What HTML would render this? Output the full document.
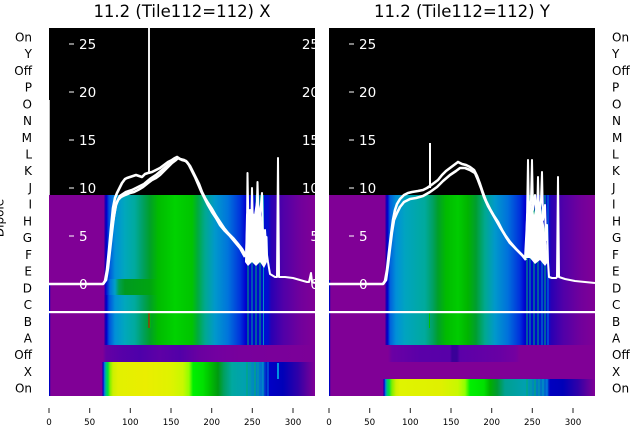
<!DOCTYPE html>
<html><head><meta charset="utf-8"><style>
html,body{margin:0;padding:0;background:#fff;}
svg{display:block;}
text{font-family:"DejaVu Sans","Liberation Sans",sans-serif;}
</style></head><body>
<svg width="640" height="440" viewBox="0 0 640 440" xmlns="http://www.w3.org/2000/svg">
<defs>
<linearGradient id="gL" gradientUnits="userSpaceOnUse" x1="0" y1="0" x2="1000" y2="0">
<stop offset="0.049" stop-color="#800096"/><stop offset="0.104" stop-color="#800096"/><stop offset="0.105" stop-color="#2000b0"/><stop offset="0.1065" stop-color="#0000cc"/><stop offset="0.109" stop-color="#0050dc"/><stop offset="0.115" stop-color="#0090d8"/><stop offset="0.125" stop-color="#00a8bc"/><stop offset="0.135" stop-color="#00aa9c"/><stop offset="0.143" stop-color="#00a060"/><stop offset="0.150" stop-color="#00a028"/><stop offset="0.158" stop-color="#00bb00"/><stop offset="0.175" stop-color="#00d200"/><stop offset="0.192" stop-color="#00c400"/><stop offset="0.198" stop-color="#00aa40"/><stop offset="0.205" stop-color="#00a890"/><stop offset="0.215" stop-color="#0098cc"/><stop offset="0.228" stop-color="#0074dc"/><stop offset="0.240" stop-color="#0034dc"/><stop offset="0.246" stop-color="#0000d0"/><stop offset="0.268" stop-color="#0010d0"/><stop offset="0.271" stop-color="#2800b4"/><stop offset="0.283" stop-color="#5000a8"/><stop offset="0.300" stop-color="#70009c"/><stop offset="0.315" stop-color="#800096"/>
</linearGradient>
<linearGradient id="gLD" gradientUnits="userSpaceOnUse" x1="0" y1="0" x2="1000" y2="0">
<stop offset="0.049" stop-color="#800096"/><stop offset="0.104" stop-color="#800096"/><stop offset="0.1055" stop-color="#0000cc"/><stop offset="0.110" stop-color="#0070dc"/><stop offset="0.115" stop-color="#00a0c8"/><stop offset="0.119" stop-color="#00a050"/><stop offset="0.125" stop-color="#009a20"/><stop offset="0.150" stop-color="#00a410"/><stop offset="0.158" stop-color="#00bb00"/><stop offset="0.175" stop-color="#00d200"/><stop offset="0.192" stop-color="#00c400"/><stop offset="0.198" stop-color="#00aa40"/><stop offset="0.205" stop-color="#00a890"/><stop offset="0.215" stop-color="#0098cc"/><stop offset="0.228" stop-color="#0074dc"/><stop offset="0.240" stop-color="#0034dc"/><stop offset="0.246" stop-color="#0000d0"/><stop offset="0.268" stop-color="#0010d0"/><stop offset="0.271" stop-color="#2800b4"/><stop offset="0.283" stop-color="#5000a8"/><stop offset="0.300" stop-color="#70009c"/><stop offset="0.315" stop-color="#800096"/>
</linearGradient>
<linearGradient id="gR" gradientUnits="userSpaceOnUse" x1="0" y1="0" x2="1000" y2="0">
<stop offset="0.329" stop-color="#800096"/><stop offset="0.385" stop-color="#800096"/><stop offset="0.386" stop-color="#2000b0"/><stop offset="0.3875" stop-color="#0000cc"/><stop offset="0.390" stop-color="#0060dc"/><stop offset="0.396" stop-color="#0090d8"/><stop offset="0.405" stop-color="#00a4c0"/><stop offset="0.425" stop-color="#00aa9c"/><stop offset="0.433" stop-color="#00a060"/><stop offset="0.438" stop-color="#00a028"/><stop offset="0.446" stop-color="#00bb00"/><stop offset="0.458" stop-color="#00cc00"/><stop offset="0.468" stop-color="#00b400"/><stop offset="0.476" stop-color="#009e30"/><stop offset="0.485" stop-color="#00a890"/><stop offset="0.495" stop-color="#0098cc"/><stop offset="0.508" stop-color="#0070dc"/><stop offset="0.520" stop-color="#0030dc"/><stop offset="0.525" stop-color="#0000d0"/><stop offset="0.548" stop-color="#0010d0"/><stop offset="0.551" stop-color="#2800b4"/><stop offset="0.563" stop-color="#5000a8"/><stop offset="0.580" stop-color="#70009c"/><stop offset="0.595" stop-color="#800096"/>
</linearGradient>
<linearGradient id="gLY" gradientUnits="userSpaceOnUse" x1="0" y1="0" x2="1000" y2="0">
<stop offset="0.049" stop-color="#800096"/><stop offset="0.102" stop-color="#800096"/><stop offset="0.103" stop-color="#0000c0"/><stop offset="0.1045" stop-color="#0080e0"/><stop offset="0.106" stop-color="#00c080"/><stop offset="0.108" stop-color="#00e040"/><stop offset="0.110" stop-color="#80f000"/><stop offset="0.113" stop-color="#ccf000"/><stop offset="0.118" stop-color="#e2f000"/><stop offset="0.145" stop-color="#eaee00"/><stop offset="0.170" stop-color="#e0f200"/><stop offset="0.183" stop-color="#c8f800"/><stop offset="0.189" stop-color="#90ff00"/><stop offset="0.193" stop-color="#00f000"/><stop offset="0.203" stop-color="#00e000"/><stop offset="0.210" stop-color="#00c000"/><stop offset="0.218" stop-color="#009a10"/><stop offset="0.224" stop-color="#00a060"/><stop offset="0.232" stop-color="#00a8a0"/><stop offset="0.245" stop-color="#00a0b0"/><stop offset="0.262" stop-color="#0070d0"/><stop offset="0.268" stop-color="#0000c8"/><stop offset="0.283" stop-color="#0000b8"/><stop offset="0.298" stop-color="#3000a8"/><stop offset="0.308" stop-color="#60009c"/><stop offset="0.315" stop-color="#800096"/>
</linearGradient>
<linearGradient id="gRY" gradientUnits="userSpaceOnUse" x1="0" y1="0" x2="1000" y2="0">
<stop offset="0.329" stop-color="#800096"/><stop offset="0.383" stop-color="#800096"/><stop offset="0.384" stop-color="#0000c0"/><stop offset="0.3855" stop-color="#0080e0"/><stop offset="0.387" stop-color="#00c080"/><stop offset="0.389" stop-color="#00e040"/><stop offset="0.392" stop-color="#80f000"/><stop offset="0.396" stop-color="#d0f000"/><stop offset="0.400" stop-color="#e0f400"/><stop offset="0.440" stop-color="#e0f000"/><stop offset="0.458" stop-color="#c8f800"/><stop offset="0.465" stop-color="#90ff00"/><stop offset="0.470" stop-color="#00f000"/><stop offset="0.484" stop-color="#00e000"/><stop offset="0.490" stop-color="#00b000"/><stop offset="0.497" stop-color="#009a30"/><stop offset="0.505" stop-color="#00a090"/><stop offset="0.525" stop-color="#00a0b0"/><stop offset="0.547" stop-color="#0060d0"/><stop offset="0.550" stop-color="#0000c0"/><stop offset="0.563" stop-color="#0000b8"/><stop offset="0.578" stop-color="#3000a8"/><stop offset="0.588" stop-color="#60009c"/><stop offset="0.595" stop-color="#800096"/>
</linearGradient>
<linearGradient id="gLO" gradientUnits="userSpaceOnUse" x1="0" y1="0" x2="1000" y2="0">
<stop offset="0.049" stop-color="#800096"/><stop offset="0.103" stop-color="#800096"/><stop offset="0.106" stop-color="#6400a4"/><stop offset="0.120" stop-color="#5800a8"/><stop offset="0.140" stop-color="#4e00aa"/><stop offset="0.160" stop-color="#5e00a6"/><stop offset="0.180" stop-color="#5200a8"/><stop offset="0.200" stop-color="#6a00a0"/><stop offset="0.216" stop-color="#7200a0"/><stop offset="0.240" stop-color="#78009c"/><stop offset="0.315" stop-color="#7c0098"/>
</linearGradient>
<linearGradient id="gRO" gradientUnits="userSpaceOnUse" x1="0" y1="0" x2="1000" y2="0">
<stop offset="0.329" stop-color="#800096"/><stop offset="0.388" stop-color="#800096"/><stop offset="0.392" stop-color="#6a00a4"/><stop offset="0.420" stop-color="#5a00a8"/><stop offset="0.450" stop-color="#5800a8"/><stop offset="0.452" stop-color="#3a0098"/><stop offset="0.457" stop-color="#3a0098"/><stop offset="0.460" stop-color="#5c00a8"/><stop offset="0.500" stop-color="#6800a4"/><stop offset="0.516" stop-color="#7400a0"/><stop offset="0.520" stop-color="#800096"/><stop offset="0.595" stop-color="#800096"/>
</linearGradient>
<clipPath id="cL"><rect x="49" y="28" width="266" height="368"/></clipPath>
<clipPath id="cR"><rect x="329" y="28" width="266" height="368"/></clipPath>
</defs>

<!-- titles -->
<text x="182" y="17" font-size="16.5" text-anchor="middle" fill="#000">11.2 (Tile112=112) X</text>
<text x="462" y="17" font-size="16.5" text-anchor="middle" fill="#000">11.2 (Tile112=112) Y</text>

<!-- LEFT PANEL -->
<g clip-path="url(#cL)">
<rect x="49" y="28" width="266" height="167" fill="#000"/>
<rect x="49" y="195" width="266" height="150" fill="url(#gL)"/>
<rect x="49" y="279" width="266" height="16" fill="url(#gLD)"/>
<rect x="49" y="345" width="266" height="17" fill="url(#gLO)"/>
<rect x="49" y="362" width="266" height="34" fill="url(#gLY)"/>
<rect x="49" y="283" width="1.2" height="113" fill="#0000c0"/>
<g stroke-width="1">
<line x1="248" y1="195" x2="248" y2="345" stroke="#00b070"/>
<line x1="252" y1="195" x2="252" y2="345" stroke="#00a0a0"/>
<line x1="256" y1="195" x2="256" y2="345" stroke="#00b070"/>
<line x1="260" y1="195" x2="260" y2="345" stroke="#00b070"/>
<line x1="263.5" y1="195" x2="263.5" y2="345" stroke="#0090c0"/>
<line x1="247" y1="362" x2="247" y2="396" stroke="#00b070"/>
<line x1="250" y1="362" x2="250" y2="396" stroke="#00a0a0"/>
<line x1="255" y1="362" x2="255" y2="396" stroke="#00b070"/>
<line x1="258" y1="362" x2="258" y2="396" stroke="#00a0a0"/>
<line x1="263" y1="362" x2="263" y2="396" stroke="#00a0c0"/>
<line x1="268" y1="362" x2="268" y2="396" stroke="#0080e0"/>
</g>
<rect x="277" y="363" width="2" height="16" fill="#0090e0"/>
<rect x="148.5" y="313" width="1" height="15" fill="#e00000"/>
<rect x="149.5" y="313" width="1" height="15" fill="#00c000"/>
<line x1="49.5" y1="100" x2="49.5" y2="195" stroke="#bbb" stroke-width="1"/>
</g>

<!-- RIGHT PANEL -->
<g clip-path="url(#cR)">
<rect x="329" y="28" width="266" height="167" fill="#000"/>
<rect x="329" y="195" width="266" height="150" fill="url(#gR)"/>
<rect x="329" y="345" width="266" height="17" fill="url(#gRO)"/>
<rect x="329" y="362" width="266" height="17" fill="#800096"/>
<rect x="329" y="379" width="266" height="17" fill="url(#gRY)"/>
<rect x="329" y="280" width="1.2" height="116" fill="#0000c0"/>
<g stroke-width="1">
<line x1="527" y1="195" x2="527" y2="345" stroke="#00b070"/>
<line x1="530" y1="195" x2="530" y2="345" stroke="#00a0a0"/>
<line x1="534" y1="195" x2="534" y2="345" stroke="#00b070"/>
<line x1="538" y1="195" x2="538" y2="345" stroke="#00b070"/>
<line x1="542" y1="195" x2="542" y2="345" stroke="#0090c0"/>
<line x1="545" y1="195" x2="545" y2="345" stroke="#00b070"/>
<line x1="548" y1="195" x2="548" y2="345" stroke="#0080e0"/>
<line x1="527" y1="379" x2="527" y2="396" stroke="#00b070"/>
<line x1="531" y1="379" x2="531" y2="396" stroke="#00a0a0"/>
<line x1="535" y1="379" x2="535" y2="396" stroke="#00b070"/>
<line x1="539" y1="379" x2="539" y2="396" stroke="#00a0a0"/>
<line x1="543" y1="379" x2="543" y2="396" stroke="#00a0c0"/>
<line x1="547" y1="379" x2="547" y2="396" stroke="#0080e0"/>
</g>
<rect x="429" y="313" width="1" height="15" fill="#00c000"/>
</g>

<!-- horizontal white line -->
<rect x="49" y="311" width="546" height="2.2" fill="#fff"/>

<!-- overlay tick labels left -->
<g fill="#fff" font-size="13.5">
<g stroke="#fff" stroke-width="1">
<line x1="69" y1="44" x2="74" y2="44"/><line x1="69" y1="92" x2="74" y2="92"/><line x1="69" y1="140" x2="74" y2="140"/><line x1="69" y1="188" x2="74" y2="188"/><line x1="69" y1="236" x2="74" y2="236"/><line x1="69" y1="284" x2="74" y2="284"/>
<line x1="349" y1="44" x2="354" y2="44"/><line x1="349" y1="92" x2="354" y2="92"/><line x1="349" y1="140" x2="354" y2="140"/><line x1="349" y1="188" x2="354" y2="188"/><line x1="349" y1="236" x2="354" y2="236"/><line x1="349" y1="284" x2="354" y2="284"/>
</g>
<text x="79" y="49">25</text><text x="79" y="97">20</text><text x="79" y="145">15</text><text x="79" y="193">10</text><text x="79" y="241">5</text><text x="79" y="289">0</text>
<text x="359" y="49">25</text><text x="359" y="97">20</text><text x="359" y="145">15</text><text x="359" y="193">10</text><text x="359" y="241">5</text><text x="359" y="289">0</text>
<g clip-path="url(#cL)" text-anchor="end">
<text x="319" y="49">25</text><text x="319" y="97">20</text><text x="319" y="145">15</text><text x="319" y="193">10</text><text x="319" y="241">5</text><text x="319" y="289">0</text>
</g>
</g>

<!-- white curves left -->
<g clip-path="url(#cL)" fill="none" stroke="#fff" stroke-width="2.6" stroke-linejoin="round">
<line x1="149" y1="20" x2="149" y2="174" stroke="#eee" stroke-width="2"/>
<polyline points="49,284 103,284 105,281 107,270 109,250 111,228 113,208 115,198 117,193 120,187 122,183 125,179 127,178 130,177 133,176 136,175 139,176 142,177 145,174 148,173 152,172 156,170 160,168 164,165 168,162 172,160 175,158 177,157 180,159 184,160 187,162 190,166 193,172 196,178 199,184 202,192 205,198 208,203 212,209 216,216 220,222 224,228 228,233 233,238 238,244 242,249 246,256"/>
<polyline points="103,284 106,280 108,268 110,250 112,232 114,215 116,205 118,200 121,197 125,195 130,193 134,192 138,190 143,187 148,183 152,180 156,178 160,175 164,171 168,167 172,163 176,160 178,158 182,160 186,161 189,165 192,171 195,177 198,184 201,191 204,197 208,205 212,212 216,218 220,225 225,231 230,236 235,242 240,248 245,257"/>
<polyline points="113,222 116,204 120,196 126,192 132,190 138,187 144,184 150,179 156,175 162,170 168,165 174,160 178,158"/>
<polyline stroke-width="2" points="246,256 247,230 247.5,173 248.5,230 250,210 251,240 252,188 253,230 254,215 255,245 257,200 257.5,182 259,230 260,215 262,193 263,240 264,250 265,230 266,245 266.5,237 267,255 268,262 270,274 275,277 277,277 278,158 279,277 285,277 293,278 300,280 307,282 309,282 311,273 312,282 315,283"/>
<polygon fill="#fff" stroke="none" points="245,262 246,215 248,205 250,218 252,205 254,215 256,202 258,212 260,205 262,222 264,230 266,245 267,262 264,268 260,262 256,266 252,262 248,266"/>
</g>

<!-- white curves right -->
<g clip-path="url(#cR)" fill="none" stroke="#fff" stroke-width="2.6" stroke-linejoin="round">
<line x1="430" y1="143" x2="430" y2="188" stroke-width="2"/>
<polyline points="329,284 383,284 385,281 387,270 389,252 391,235 393,220 395,210 397,204 400,199 404,195 408,193 412,192 418,191 423,190 427,188 430,186 434,183 438,180 442,175 446,171 450,168 454,165 458,162 462,164 466,165 470,167 474,170 477,176 480,184 483,193 486,201 490,209 494,216 498,222 502,230 506,237 510,243 515,248 520,253 525,258"/>
<polyline points="383,284 386,280 388,265 390,248 392,232 394,220 397,213 400,207 404,202 410,199 416,198 423,196 430,192 437,187 443,181 450,175 456,171 460,168 465,168 470,170 475,173 478,180 481,188 484,197 488,206 492,213 496,220 500,227 505,235 510,242 516,249 522,255 526,260"/>
<polyline stroke-width="2" points="525,258 527,220 528,160 529,215 531,200 532,160 533,210 535,195 537,220 538,177 539,215 541,200 542,172 543,220 545,205 546,240 547,225 548,262 549,277 552,278 556,278 557,277 558,177 559,277 565,279 575,281 585,282 595,283"/>
<polygon fill="#fff" stroke="none" points="525,258 526,215 528,205 530,212 532,200 534,215 536,205 538,210 540,202 542,215 544,225 546,240 548,262 545,266 540,260 535,264 530,258"/>
</g>

<!-- y labels left -->
<g font-size="12" fill="#000" text-anchor="end">
<text x="32" y="41.4">On</text><text x="32" y="58.1">Y</text><text x="32" y="74.8">Off</text><text x="32" y="91.6">P</text><text x="32" y="108.3">O</text><text x="32" y="125">N</text><text x="32" y="141.8">M</text><text x="32" y="158.5">L</text><text x="32" y="175.2">K</text><text x="32" y="191.9">J</text><text x="32" y="208.7">I</text><text x="32" y="225.4">H</text><text x="32" y="242.1">G</text><text x="32" y="258.9">F</text><text x="32" y="275.6">E</text><text x="32" y="292.3">D</text><text x="32" y="309">C</text><text x="32" y="325.8">B</text><text x="32" y="342.5">A</text><text x="32" y="359.2">Off</text><text x="32" y="376">X</text><text x="32" y="392.7">On</text>
</g>
<!-- y labels right -->
<g font-size="12" fill="#000" text-anchor="start">
<text x="612" y="41.4">On</text><text x="612" y="58.1">Y</text><text x="612" y="74.8">Off</text><text x="612" y="91.6">P</text><text x="612" y="108.3">O</text><text x="612" y="125">N</text><text x="612" y="141.8">M</text><text x="612" y="158.5">L</text><text x="612" y="175.2">K</text><text x="612" y="191.9">J</text><text x="612" y="208.7">I</text><text x="612" y="225.4">H</text><text x="612" y="242.1">G</text><text x="612" y="258.9">F</text><text x="612" y="275.6">E</text><text x="612" y="292.3">D</text><text x="612" y="309">C</text><text x="612" y="325.8">B</text><text x="612" y="342.5">A</text><text x="612" y="359.2">Off</text><text x="612" y="376">X</text><text x="612" y="392.7">On</text>
</g>

<!-- Dipole ylabel -->
<text transform="translate(3.5,218) rotate(-90)" font-size="12" text-anchor="middle" fill="#000">Dipole</text>

<!-- x ticks -->
<g stroke="#222" stroke-width="1">
<line x1="49" y1="408" x2="49" y2="413"/><line x1="89.7" y1="408" x2="89.7" y2="413"/><line x1="130.3" y1="408" x2="130.3" y2="413"/><line x1="171" y1="408" x2="171" y2="413"/><line x1="211.7" y1="408" x2="211.7" y2="413"/><line x1="252.3" y1="408" x2="252.3" y2="413"/><line x1="293" y1="408" x2="293" y2="413"/>
<line x1="329" y1="408" x2="329" y2="413"/><line x1="369.7" y1="408" x2="369.7" y2="413"/><line x1="410.3" y1="408" x2="410.3" y2="413"/><line x1="451" y1="408" x2="451" y2="413"/><line x1="491.7" y1="408" x2="491.7" y2="413"/><line x1="532.3" y1="408" x2="532.3" y2="413"/><line x1="573" y1="408" x2="573" y2="413"/>
</g>
<g font-size="8.7" fill="#000" text-anchor="middle">
<text x="49" y="425">0</text><text x="89.7" y="425">50</text><text x="130.3" y="425">100</text><text x="171" y="425">150</text><text x="211.7" y="425">200</text><text x="252.3" y="425">250</text><text x="293" y="425">300</text>
<text x="329" y="425">0</text><text x="369.7" y="425">50</text><text x="410.3" y="425">100</text><text x="451" y="425">150</text><text x="491.7" y="425">200</text><text x="532.3" y="425">250</text><text x="573" y="425">300</text>
</g>
</svg>
</body></html>
